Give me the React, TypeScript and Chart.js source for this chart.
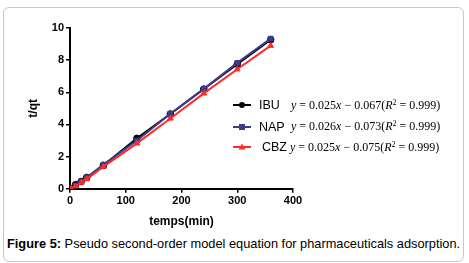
import React, { useEffect, useRef } from "react";
import { Chart, registerables } from "chart.js";

Chart.register(...registerables);

const times = [0, 10, 20, 30, 60, 120, 180, 240, 300, 360];
const ibu = [0, 0.25, 0.45, 0.7, 1.45, 3.13, 4.65, 6.2, 7.75, 9.27];
const nap = [0, 0.2, 0.45, 0.7, 1.5, 3.0, 4.66, 6.21, 7.83, 9.34];
const cbz = [0, 0.15, 0.38, 0.6, 1.37, 2.82, 4.37, 5.93, 7.43, 8.9];

const seriesNames = ["IBU", "NAP", "CBZ"];
const seriesColors = ["#000000", "#3c3c8c", "#ff2a2a"];
const seriesMarkers = ["circle", "rect", "triangle"];
const slopes = ["0.025", "0.026", "0.025"];
const intercepts = ["0.067", "0.073", "0.075"];
const r2Values = ["0.999", "0.999", "0.999"];

const xTitle = "temps(min)";
const yTitle = "t/qt";
const captionBold = "Figure 5:";
const captionText = " Pseudo second-order model equation for pharmaceuticals adsorption.";

export default function App() {
  const canvasRef = useRef<HTMLCanvasElement | null>(null);

  useEffect(() => {
    const canvas = canvasRef.current;
    if (!canvas) return;
    const seriesData = [ibu, nap, cbz];
    const chart = new Chart(canvas, {
      type: "line",
      data: {
        datasets: seriesNames.map((name, i) => ({
          label: name,
          data: times.map((t, j) => ({ x: t, y: seriesData[i][j] })),
          borderColor: seriesColors[i],
          backgroundColor: seriesColors[i],
          borderWidth: 2,
          pointStyle: seriesMarkers[i] as any,
          pointRadius: 3.3,
          pointBorderWidth: 1,
          order: 2 - i,
          tension: 0,
        })),
      },
      options: {
        animation: false,
        responsive: false,
        maintainAspectRatio: false,
        layout: { padding: { left: 26, top: 28, right: 176, bottom: 0 } },
        plugins: {
          legend: { display: false },
          tooltip: { enabled: false },
        },
        scales: {
          x: {
            type: "linear",
            min: 0,
            max: 400,
            ticks: {
              stepSize: 100,
              color: "#000",
              padding: 2,
              font: { family: "Arial, 'Liberation Sans'", size: 11, weight: "bold" },
            },
            grid: {
              drawOnChartArea: false,
              drawTicks: true,
              tickLength: 4,
              color: "#000",
              lineWidth: 1.5,
            },
            border: { display: true, color: "#000", width: 2 },
            title: {
              display: true,
              text: xTitle,
              color: "#000",
              padding: { top: 3, bottom: 3 },
              font: { family: "Arial, 'Liberation Sans'", size: 12, weight: "bold" },
            },
            afterFit: (scale: any) => {
              scale.height = 43.3;
            },
          },
          y: {
            type: "linear",
            min: 0,
            max: 10,
            ticks: {
              stepSize: 2,
              color: "#000",
              padding: 2,
              font: { family: "Arial, 'Liberation Sans'", size: 11, weight: "bold" },
            },
            grid: {
              drawOnChartArea: false,
              drawTicks: true,
              tickLength: 4,
              color: "#000",
              lineWidth: 1.5,
            },
            border: { display: true, color: "#000", width: 2 },
            title: {
              display: true,
              text: yTitle,
              color: "#000",
              padding: { top: 0, bottom: 0 },
              font: { family: "Arial, 'Liberation Sans'", size: 12, weight: "bold" },
            },
            afterFit: (scale: any) => {
              scale.width = 44;
            },
          },
        },
      },
    });
    return () => chart.destroy();
  }, []);

  const rowTops = [105, 126.5, 147];

  const markerEl = (i: number) => {
    const c = seriesColors[i];
    if (seriesMarkers[i] === "circle")
      return <circle cx={9} cy={5} r={3} fill={c} />;
    if (seriesMarkers[i] === "rect")
      return <rect x={6} y={2} width={6} height={6} fill={c} />;
    return <polygon points="9,1.5 12.5,7.5 5.5,7.5" fill={c} />;
  };

  return (
    <div
      style={{
        position: "fixed",
        left: 0,
        top: 0,
        width: 469,
        height: 263,
        background: "#fff",
        overflow: "hidden",
      }}
    >
      <div
        style={{
          position: "absolute",
          left: 3,
          top: 7,
          width: 461,
          height: 255,
          border: "1px solid #c8c8c8",
          borderRadius: 6,
          boxSizing: "border-box",
        }}
      />
      <canvas
        ref={canvasRef}
        width={469}
        height={232}
        style={{ position: "absolute", left: 0, top: 0, width: 469, height: 232 }}
      />
      {seriesNames.map((name, i) => (
        <div
          key={name}
          style={{
            position: "absolute",
            left: 233,
            top: rowTops[i] - 8,
            height: 16,
            display: "flex",
            alignItems: "center",
            whiteSpace: "nowrap",
          }}
        >
          <svg width={18} height={10} style={{ display: "block" }}>
            <line x1={0} y1={5} x2={18} y2={5} stroke={seriesColors[i]} strokeWidth={2} />
            {markerEl(i)}
          </svg>
          <span
            style={{
              fontFamily: "Arial, 'Liberation Sans', sans-serif",
              fontSize: 12.5,
              color: "#000",
              marginLeft: i === 2 ? 11 : 8,
              width: i === 2 ? 28 : 32,
              display: "inline-block",
            }}
          >
            {name}
          </span>
          <span
            style={{
              fontFamily: "'Times New Roman', 'Liberation Serif', serif",
              fontSize: 12,
              color: "#000",
            }}
          >
            <i>y</i> = {slopes[i]}
            <i>x</i> − {intercepts[i]}(<i>R</i>
            <sup style={{ fontSize: 8, verticalAlign: "4px" }}>2</sup> = {r2Values[i]})
          </span>
        </div>
      ))}
      <div
        style={{
          position: "absolute",
          left: 7,
          top: 236,
          fontFamily: "Arial, 'Liberation Sans', sans-serif",
          fontSize: 12.8,
          color: "#000",
          whiteSpace: "nowrap",
        }}
      >
        <b>{captionBold}</b>
        {captionText}
      </div>
    </div>
  );
}
